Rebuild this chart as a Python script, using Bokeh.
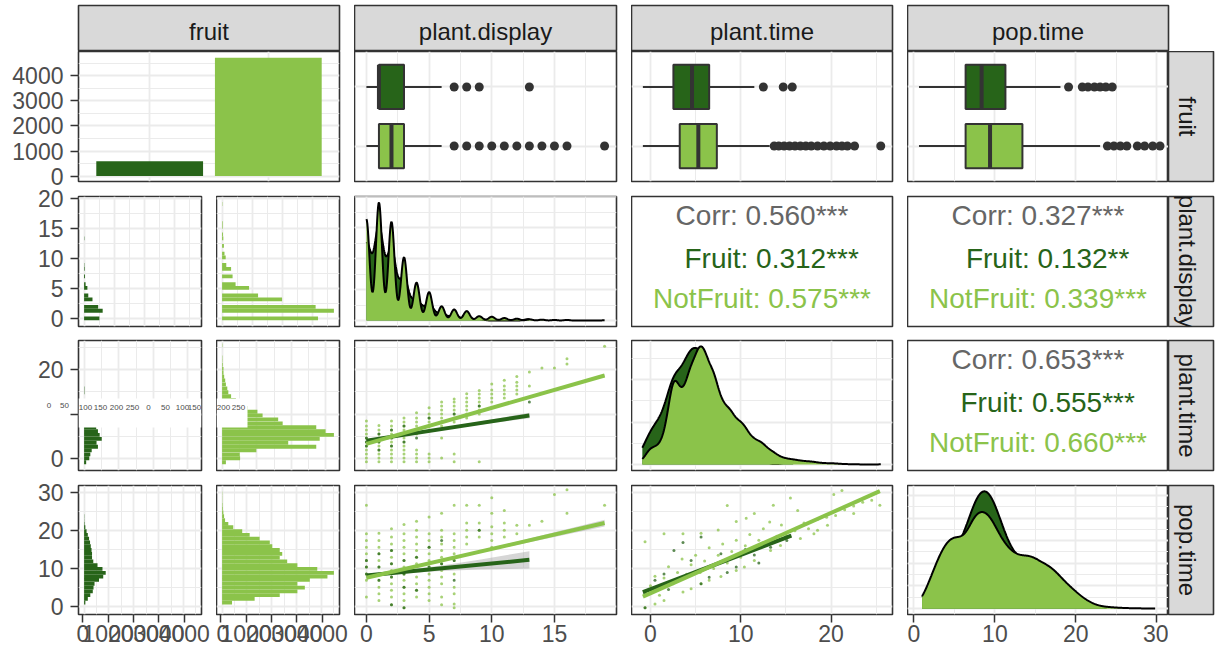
import numpy as np
from bokeh.plotting import figure
from bokeh.layouts import row, column
from bokeh.models import FixedTicker, BasicTicker, Label, Range1d, LinearAxis, AllLabels, BoxAnnotation
from bokeh.core.properties import value
from bokeh.embed import file_html
from bokeh.resources import INLINE

# ---------------- data ----------------
groups = ["Fruit", "NotFruit"]
group_counts = [590, 4720]
var_labels = ["fruit", "plant.display", "plant.time", "pop.time"]

# plant.display: integer values, histogram counts per value
pd_values = list(range(20))
pd_hist_fruit = [51, 62, 47, 28, 14, 11, 5, 3, 2, 1, 0, 0, 0, 1, 0, 0, 0, 0, 0, 0]
pd_hist_notfruit = [320, 373, 312, 200, 120, 90, 45, 35, 30, 14, 12, 8, 6, 4, 3, 2, 2, 0, 0, 1]

# plant.time histogram bins
pt_bins = [-0.9, 0.0, 0.9, 1.8, 2.6, 3.5, 4.4, 5.3, 6.1, 7.0, 7.9, 8.8, 9.7, 10.5, 11.4, 12.3,
           13.2, 14.0, 14.9, 15.8, 16.7, 17.6, 18.4, 19.3, 20.2, 21.1, 22.0, 22.8, 23.7, 24.6, 25.5]
pt_hist_fruit = [6, 15, 18, 22, 40, 36, 51, 45, 40, 35, 26, 18, 13, 9, 5, 2, 0, 0, 1, 1,
                 0, 0, 0, 0, 0, 0, 0, 0, 0, 0, 0]
pt_hist_notfruit = [11, 52, 51, 99, 272, 191, 282, 323, 299, 272, 175, 162, 117, 102, 73, 66,
                    40, 26, 18, 15, 11, 9, 6, 4, 4, 2, 1, 1, 0, 0, 1]

# pop.time histogram bins
pop_bins = [1.0, 2.0, 3.0, 4.0, 5.0, 6.0, 7.0, 7.9, 8.9, 9.9, 10.9, 11.9, 12.9, 13.9, 14.9,
            15.9, 16.9, 17.9, 18.9, 19.9, 20.9, 21.8, 22.8, 23.8, 24.8, 25.8, 26.8, 27.8, 28.8, 29.8]
pop_hist_fruit = [5, 15, 25, 35, 38, 42, 60, 77, 87, 74, 54, 37, 32, 32, 30, 27, 24, 20, 15, 10,
                  5, 2, 1, 1, 0, 0, 0, 0, 0, 0]
pop_hist_notfruit = [40, 131, 232, 303, 333, 303, 353, 424, 450, 383, 303, 262, 232, 242, 232,
                     202, 192, 151, 111, 81, 45, 25, 12, 8, 5, 3, 2, 1, 1, 1]

# boxplot summaries: [lower whisker, Q1, median, Q3, upper whisker]
pd_box_fruit = [0, 1, 1, 3, 6]
pd_box_notfruit = [0, 1, 2, 3, 6]
pd_out_fruit = [7, 8, 9, 13]
pd_out_notfruit = [7, 8, 9, 10, 11, 12, 13, 14, 15, 16, 19]
pt_box_fruit = [-0.84, 2.54, 4.6, 6.5, 11.5]
pt_box_notfruit = [-0.84, 3.24, 5.3, 7.35, 13.2]
pt_out_fruit = [12.5, 14.7, 15.7]
pt_out_notfruit = [13.7, 14.2, 14.8, 15.4, 16.0, 16.6, 17.2, 17.8, 18.5, 19.2, 19.9, 20.6,
                   21.2, 21.8, 22.6, 25.5]
pop_box_fruit = [0.62, 6.38, 8.36, 11.3, 18.1]
pop_box_notfruit = [0.62, 6.38, 9.4, 13.4, 23.0]
pop_out_fruit = [19.1, 20.8, 21.5, 22.3, 23.0, 23.7, 24.5]
pop_out_notfruit = [23.9, 24.7, 25.5, 26.3, 27.6, 28.5, 29.5, 30.4]

# correlation texts
cor_pd_pt = ["Corr: 0.560***", "Fruit: 0.312***", "NotFruit: 0.575***"]
cor_pd_pop = ["Corr: 0.327***", "Fruit: 0.132**", "NotFruit: 0.339***"]
cor_pt_pop = ["Corr: 0.653***", "Fruit: 0.555***", "NotFruit: 0.660***"]

# scatter: plant.display (x) vs plant.time (y)
pdpt_notfruit = {
    0: [-0.8, 0.1, 1.0, 1.9, 2.8, 3.7, 4.6, 5.5, 6.4, 7.3, 8.4],
    1: [-0.8, 0.1, 1.0, 1.9, 2.8, 3.7, 4.6, 5.5, 6.4, 7.4],
    2: [-0.8, 0.1, 1.0, 1.9, 2.8, 3.7, 4.6, 5.5, 6.4, 7.3, 8.4],
    3: [-0.8, 0.1, 1.0, 1.9, 2.8, 3.7, 4.6, 5.5, 6.4, 7.3, 8.2, 9.1],
    4: [-0.8, 0.1, 1.0, 1.9, 5.5, 6.4, 7.3, 8.2, 9.1, 10.3],
    5: [-0.8, 0.1, 1.0, 6.4, 7.3, 8.2, 9.1, 10.0, 11.4],
    6: [0.1, 4.6, 7.3, 8.2, 9.1, 10.0, 10.9, 11.8, 12.7],
    7: [-0.8, 1.0, 8.2, 9.1, 10.0, 10.9, 11.8, 12.7, 13.4],
    8: [9.1, 10.0, 10.9, 11.8, 12.7, 13.6, 14.6],
    9: [-0.8, 10.0, 10.9, 11.8, 12.7, 13.6, 14.5, 15.3],
    10: [12.7, 13.6, 14.5, 15.4, 16.8],
    11: [13.6, 14.5, 15.4, 16.3, 17.6],
    12: [14.5, 15.4, 16.3, 17.2, 18.5],
    13: [16.3, 19.5],
    14: [20.4],
    15: [20.4],
    16: [21.3, 22.5],
    19: [25.3],
}
pdpt_fruit = {0: [2.8, 3.7, 4.6], 1: [1.9, 3.7, 5.5], 2: [2.8, 4.6, 6.4], 3: [3.7, 5.5, 7.3],
              4: [4.6, 6.4], 5: [7.3, 9.1], 6: [8.2], 7: [10.0], 9: [11.8], 13: [12.7]}
pdpt_fit_fruit = ([0, 13], [4.0, 9.66])
pdpt_fit_notfruit = ([0, 19], [3.26, 18.7])
pdpt_se_fruit = ([0, 4, 8, 13], [0.35, 0.2, 0.3, 0.6])
pdpt_se_notfruit = ([0, 10, 19], [0.15, 0.1, 0.3])

# scatter: plant.display (x) vs pop.time (y)
pdpop_notfruit = {
    0: [2.5, 6.9, 8.6, 10.4, 12.1, 13.9, 15.6, 17.4, 19.2, 26.7],
    1: [1.6, 3.4, 5.1, 6.9, 8.6, 10.4, 12.1, 13.9, 15.6, 17.4, 19.3],
    2: [0.5, 2.5, 4.3, 6.0, 7.8, 9.5, 11.3, 13.0, 14.8, 16.5, 18.3, 20.5],
    3: [-0.3, 1.6, 3.4, 5.1, 6.9, 8.6, 10.4, 12.1, 13.9, 15.6, 17.4, 19.2, 21.6],
    4: [2.5, 4.3, 6.0, 7.8, 9.5, 11.3, 13.0, 14.8, 16.5, 18.3, 20.1, 22.5],
    5: [1.6, 3.4, 5.1, 6.9, 8.6, 10.4, 12.1, 13.9, 15.6, 17.4, 19.2, 23.6],
    6: [0.5, 2.5, 6.0, 7.8, 9.5, 11.3, 13.0, 14.8, 16.5, 18.3, 20.1, 24.6],
    7: [-0.3, 0.7, 3.4, 5.1, 8.6, 10.4, 12.1, 13.9, 15.6, 17.4, 19.2, 26.7],
    8: [16.5, 18.3, 20.1, 22.0, 26.7],
    9: [18.3, 20.1, 22.0, 26.7],
    10: [15.6, 17.4, 19.2, 21.0, 24.6, 28.7],
    11: [18.3, 20.1, 22.0, 25.3],
    12: [19.2, 21.4],
    13: [21.4],
    14: [22.5],
    15: [29.5],
    16: [24.6, 30.8],
    19: [26.7],
}
pdpop_fruit = {0: [8.6, 10.4, 12.1], 1: [6.9, 10.4, 13.9], 2: [0.5, 7.8, 11.3, 14.8],
               3: [-0.3, 5.1, 8.6, 12.1], 4: [4.3, 9.5, 13.0], 5: [10.4, 15.6], 6: [11.3, 17.4],
               7: [6.9, 12.1], 9: [20.1]}
pdpop_fit_fruit = ([0, 13], [8.2, 12.3])
pdpop_fit_notfruit = ([0, 19], [7.6, 22.0])
pdpop_se_fruit = ([0, 3, 6, 9, 13], [0.5, 0.4, 0.7, 1.3, 2.3])
pdpop_se_notfruit = ([0, 5, 10, 19], [0.4, 0.2, 0.3, 0.9])

# scatter: plant.time (x) vs pop.time (y)
ptpop_notfruit = [
    (-0.6, 17.1), (1.5, 19.2), (3.6, 19.2), (5.6, 19.3), (7.5, 20.2), (8.5, 26.6), (9.5, 22.4),
    (10.6, 23.3), (11.5, 24.5), (13.2, 22.3), (13.6, 26.7), (15.5, 28.6), (16.3, 25.3),
    (18.1, 19.2), (20.3, 29.5), (21.2, 30.6), (22.5, 24.5), (25.4, 26.7),
    (-0.6, -0.3), (0.5, 0.7), (1.5, 1.6), (3.6, 3.8), (4.5, 4.7), (5.6, 6.0), (6.5, 6.9),
    (7.8, 7.9), (9.5, 9.5), (10.4, 10.4), (11.5, 12.1), (13.3, 14.8), (14.4, 16.1),
    (16.6, 17.9), (18.5, 20.1), (19.6, 21.4),
    (0.0, 5.5), (0.5, 8.0), (1.0, 3.0), (1.5, 7.5), (2.0, 10.5), (2.5, 6.0), (3.0, 9.0),
    (3.5, 12.5), (4.0, 8.5), (4.5, 11.0), (5.0, 13.5), (5.5, 9.0), (6.0, 12.0), (6.5, 15.5),
    (7.0, 10.0), (7.5, 13.5), (8.0, 16.5), (8.5, 11.5), (9.0, 14.5), (9.5, 17.5), (10.0, 13.0),
    (10.5, 16.0), (11.0, 19.0), (11.5, 15.0), (12.0, 17.5), (12.5, 20.5), (13.0, 16.5),
    (14.0, 18.5), (14.5, 21.5), (15.0, 19.0), (16.0, 20.0), (17.0, 22.0), (17.5, 20.5),
    (18.5, 23.0), (19.5, 23.5), (20.5, 24.0), (21.5, 25.5), (22.5, 26.5), (23.5, 27.5),
    (24.5, 28.0),
]
ptpop_fruit = [
    (3.6, 16.9), (5.6, 18.3), (5.6, 6.0), (6.5, 7.7), (1.5, 8.6), (-0.6, 3.4), (-0.6, -0.3),
    (0.5, 6.9), (2.6, 14.8), (4.5, 12.1), (7.8, 13.9), (9.5, 10.4), (11.5, 13.6), (13.3, 15.6),
    (15.1, 17.4), (2.0, 4.5), (8.5, 9.0), (10.5, 15.0), (12.0, 11.5),
]
ptpop_fit_fruit = ([-0.84, 15.6], [3.8, 18.7])
ptpop_fit_notfruit = ([-0.84, 25.4], [2.6, 30.4])
ptpop_se_fruit = ([-0.84, 7, 15.6], [0.4, 0.2, 0.5])
ptpop_se_notfruit = ([-0.84, 10, 25.4], [0.2, 0.1, 0.3])

# misplaced count-axis labels seen over the plant.time histograms
inset_labels = ["0", "50", "100", "150", "200", "250", "0", "50", "100", "150", "200", "250"]

# ---------------- style / layout constants ----------------
DARK = "#276419"
LIGHT = "#8BC34A"
GCOL = [DARK, LIGHT]
INK = "#333333"
GRIDC = "#EBEBEB"
STRIPC = "#D9D9D9"
TICKC = "#4D4D4D"
FONT = "Liberation Sans"

LEFT = 78
GAP = 15
COLW = [261, 262, 261, 261]
SUBW = 123
ROWH = [130, 130, 130, 129]
ROWT = [0, 7, 8, 10]
ROWB = [8, 6, 5, 40]
STRIPW = 45

X_RANGE = {"plant.display": (-0.95, 19.95), "plant.time": (-2.1, 26.8), "pop.time": (-0.8, 31.45)}
X_MAJOR = {"plant.display": [0, 5, 10, 15], "plant.time": [0, 10, 20], "pop.time": [0, 10, 20, 30]}
X_MINOR = {"plant.display": [2.5, 7.5, 12.5, 17.5], "plant.time": [5, 15, 25], "pop.time": [5, 15, 25]}
Y_RANGE = {"plant.display": (-1.35, 20.25), "plant.time": (-2.75, 26.6), "pop.time": (-2.1, 31.9)}
Y_MAJOR = {"plant.display": [0, 5, 10, 15, 20], "plant.time": [0, 10, 20], "pop.time": [0, 10, 20, 30]}
Y_MINOR = {"plant.display": [2.5, 7.5, 12.5, 17.5], "plant.time": [5, 15, 25], "pop.time": [5, 15, 25]}


def base(xr, yr, fw, fh, left=0, right=0, top=0, bottom=0, xaxis=False, yaxis=False, bg="white", outline=True):
    p = figure(x_range=xr, y_range=yr, frame_width=fw, frame_height=fh,
               min_border_left=left, min_border_right=right,
               min_border_top=top, min_border_bottom=bottom,
               x_axis_location=("below" if xaxis else None),
               y_axis_location=("left" if yaxis else None),
               tools="", toolbar_location=None, output_backend="svg")
    p.background_fill_color = bg
    p.border_fill_color = "white"
    p.outline_line_color = INK if outline else None
    p.outline_line_width = 1.6
    for g in p.grid:
        g.grid_line_color = None
    return p


def set_grid(p, dim, major=None, minor=(), ticker=None):
    g = [gr for gr in p.grid if gr.dimension == dim][0]
    g.ticker = ticker if ticker is not None else FixedTicker(ticks=list(major), minor_ticks=list(minor))
    g.grid_line_color = GRIDC
    g.grid_line_width = 1.8
    g.minor_grid_line_color = GRIDC
    g.minor_grid_line_width = 1.0


def style_axis(ax, ticks, side):
    ax.ticker = FixedTicker(ticks=list(ticks))
    ax.axis_line_color = None
    ax.major_tick_line_color = INK
    ax.major_tick_line_width = 1.5
    ax.major_tick_in = 0
    ax.major_tick_out = 8
    ax.minor_tick_line_color = None
    ax.major_label_text_font = FONT
    ax.major_label_text_font_size = "23px"
    ax.major_label_text_color = TICKC
    ax.major_label_standoff = 7 if side == "left" else 2
    ax.major_label_policy = AllLabels()


def kde(vals, wts, n_obs):
    v = np.asarray(vals, float)
    w = np.asarray(wts, float)
    keep = w > 0
    v, w = v[keep], w[keep]
    pw = w / w.sum()
    mean = np.sum(pw * v)
    sd = np.sqrt(np.sum(pw * (v - mean) ** 2) * n_obs / (n_obs - 1))
    order = np.argsort(v)
    cp = np.cumsum(pw[order])
    vs = v[order]
    q1 = vs[np.searchsorted(cp, 0.25)]
    q3 = vs[np.searchsorted(cp, 0.75)]
    spread = min(sd, (q3 - q1) / 1.34) if q3 > q1 else sd
    bw = 0.9 * spread * n_obs ** -0.2
    xs = np.linspace(v.min(), v.max(), 512)
    d = (pw[None, :] * np.exp(-0.5 * ((xs[:, None] - v[None, :]) / bw) ** 2)).sum(1) / (bw * np.sqrt(2 * np.pi))
    return xs, d


pd_bw = (max(pd_values) - min(pd_values)) / 30.0
pd_bin_centers = [np.floor(v / pd_bw + 0.5) * pd_bw for v in pd_values]
HIST = {
    "plant.display": (pd_bin_centers, [pd_hist_fruit, pd_hist_notfruit], pd_bw),
    "plant.time": (pt_bins, [pt_hist_fruit, pt_hist_notfruit], (max(pt_bins) - min(pt_bins)) / 30.0),
    "pop.time": (pop_bins, [pop_hist_fruit, pop_hist_notfruit], (max(pop_bins) - min(pop_bins)) / 29.0),
}
RAW = {
    "plant.display": (pd_values, [pd_hist_fruit, pd_hist_notfruit]),
    "plant.time": (pt_bins, [pt_hist_fruit, pt_hist_notfruit]),
    "pop.time": (pop_bins, [pop_hist_fruit, pop_hist_notfruit]),
}
BOX = {
    "plant.display": ([pd_box_fruit, pd_box_notfruit], [pd_out_fruit, pd_out_notfruit]),
    "plant.time": ([pt_box_fruit, pt_box_notfruit], [pt_out_fruit, pt_out_notfruit]),
    "pop.time": ([pop_box_fruit, pop_box_notfruit], [pop_out_fruit, pop_out_notfruit]),
}

# ---------------- top strips ----------------
top_figs = []
for j, lab in enumerate(var_labels):
    p = base((0, 1), (0, 1), COLW[j], 46, left=(LEFT if j == 0 else 0),
             right=(GAP if j < 3 else STRIPW + 2), top=5, bottom=0, bg=STRIPC)
    p.text(x=[0.5], y=[0.44], text=[lab], text_align="center", text_baseline="middle",
           text_font=value(FONT), text_font_size="24px", text_color="#1A1A1A")
    top_figs.append(p)


def right_strip(lab, ri):
    p = base((0, 1), (0, 1), STRIPW, ROWH[ri], right=2, top=ROWT[ri], bottom=ROWB[ri], bg=STRIPC)
    p.text(x=[0.42], y=[0.5], text=[lab], angle=-np.pi / 2, text_align="center",
           text_baseline="middle", text_font=value(FONT), text_font_size="24px", text_color="#1A1A1A")
    return p


# ---------------- row 1 ----------------
row1 = []
p = base((0.4, 2.6), (-215, 4970), COLW[0], ROWH[0], left=LEFT, right=GAP,
         top=ROWT[0], bottom=ROWB[0], yaxis=True)
set_grid(p, 0, [1, 2])
set_grid(p, 1, [0, 1000, 2000, 3000, 4000], [500, 1500, 2500, 3500, 4500])
style_axis(p.yaxis[0], [0, 1000, 2000, 3000, 4000], "left")
p.vbar(x=[i + 1 for i in range(len(groups))], top=group_counts, bottom=0, width=0.9,
       fill_color=GCOL, line_color=None)
row1.append(p)

for j, var in enumerate(var_labels[1:], start=1):
    p = base(X_RANGE[var], (0.4, 2.6), COLW[j], ROWH[0], right=(GAP if j < 3 else 0),
             top=ROWT[0], bottom=ROWB[0])
    set_grid(p, 0, X_MAJOR[var], X_MINOR[var])
    set_grid(p, 1, [1, 2])
    stats, outs = BOX[var]
    for gi, g in enumerate(groups):
        ypos = len(groups) - gi
        lw, q1, med, q3, uw = stats[gi]
        p.segment(x0=[lw, q3], y0=[ypos, ypos], x1=[q1, uw], y1=[ypos, ypos], line_color=INK, line_width=2)
        p.hbar(y=[ypos], left=[q1], right=[q3], height=0.75, fill_color=GCOL[gi], line_color=INK, line_width=2)
        p.rect(x=[med], y=[ypos], width=4, width_units="screen", height=0.75, fill_color=INK, line_color=None)
        p.scatter(x=outs[gi], y=[ypos] * len(outs[gi]), size=9, fill_color=INK, line_color=None)
    row1.append(p)
row1.append(right_strip(var_labels[0], 0))


# ---------------- helpers for lower rows ----------------
# page positions of the stray labels (inset drawn over the plant.time histograms)
INSET_X = [51, 67, 85, 100, 116, 132, 148, 165, 182, 194, 223, 238]
INSET_BOX = (45, 247, 398, 427)   # left, right, top, bottom (page px)
INSET_TEXT_Y = 407
INSET_FS = 8


def inset(p, frame_left, frame_right, frame_bottom):
    l, r, t, b = INSET_BOX
    p.add_layout(BoxAnnotation(left=max(l, frame_left) - frame_left, right=min(r, frame_right) - frame_left,
                               top=frame_bottom - t, bottom=frame_bottom - b,
                               left_units="screen", right_units="screen",
                               top_units="screen", bottom_units="screen",
                               fill_color="white", fill_alpha=1.0, line_color=None))
    for X, txt in zip(INSET_X, inset_labels):
        w = 0.556 * INSET_FS * len(txt)
        if X - w / 2 >= frame_left and X + w / 2 <= frame_right:
            p.add_layout(Label(x=X - frame_left, y=frame_bottom - INSET_TEXT_Y, x_units="screen",
                               y_units="screen", text=txt, text_font=FONT,
                               text_font_size="%dpx" % INSET_FS,
                               text_color=TICKC, text_align="center", text_baseline="middle"))


def hist_pair(var, ri):
    centers, counts, bw = HIST[var]
    M = max(max(c) for c in counts)
    xr = (-0.05 * M, 1.05 * M)
    major = [v for v in range(0, int(1.05 * M) + 1, 100)]
    minor = [v for v in range(50, int(1.05 * M) + 1, 100)]
    yr = Y_RANGE[var]
    figs = []
    for gi, g in enumerate(groups):
        last = ri == 3
        p = base(xr, yr, SUBW, ROWH[ri], left=(LEFT if gi == 0 else 0), right=GAP,
                 top=ROWT[ri], bottom=ROWB[ri], yaxis=(gi == 0))
        set_grid(p, 0, major, minor)
        set_grid(p, 1, Y_MAJOR[var], Y_MINOR[var])
        if gi == 0:
            style_axis(p.yaxis[0], Y_MAJOR[var], "left")
        if last:
            p.extra_x_ranges = {"lab": Range1d(-170, 4682)}
            ax = LinearAxis(x_range_name="lab")
            style_axis(ax, [0, 1000, 2000, 3000, 4000], "below")
            p.add_layout(ax, "below")
        p.hbar(y=centers, left=0, right=counts[gi], height=bw, fill_color=GCOL[gi], line_color=None)
        figs.append(p)
    if var == "plant.time":
        fl_a = LEFT
        fl_b = LEFT + SUBW + GAP
        inset(figs[0], fl_a, fl_a + SUBW, 470)
        inset(figs[1], fl_b, fl_b + SUBW, 470)
        # the part of the stray axis that lies in the left margin, over the "10" tick label
        ax = figs[0].yaxis[0]
        ax.major_label_overrides = {10: ""}
        ax.axis_label = inset_labels[0] + "\u00a0" * 4 + inset_labels[1]
        ax.axis_label_orientation = "horizontal"
        ax.axis_label_text_font = FONT
        ax.axis_label_text_font_size = "%dpx" % INSET_FS
        ax.axis_label_text_font_style = "normal"
        ax.axis_label_text_color = TICKC
        ax.axis_label_standoff = -34
    return figs


def density_panel(var, j, ri):
    vals, counts = RAW[var]
    curves = [kde(vals, counts[gi], group_counts[gi]) for gi in range(len(groups))]
    M = max(c[1].max() for c in curves)
    p = base(X_RANGE[var], (-0.05 * M, 1.05 * M), COLW[j], ROWH[ri],
             right=(GAP if j < 3 else 0), top=ROWT[ri], bottom=ROWB[ri], xaxis=(ri == 3))
    set_grid(p, 0, X_MAJOR[var], X_MINOR[var])
    set_grid(p, 1, ticker=BasicTicker(desired_num_ticks=4, num_minor_ticks=2))
    if ri == 3:
        style_axis(p.xaxis[0], X_MAJOR[var], "below")
    for gi in range(len(groups)):
        xs, d = curves[gi]
        p.varea(x=xs, y1=np.zeros_like(d), y2=d, fill_color=GCOL[gi])
        p.line(xs, d, line_color="black", line_width=2)
    return p


def corr_panel(labels, j, ri):
    p = base((0, 1), (0, 1), COLW[j], ROWH[ri], right=(GAP if j < 3 else 0),
             top=ROWT[ri], bottom=ROWB[ri])
    p.text(x=[0.5, 0.537, 0.5], y=[0.854, 0.523, 0.219], text=labels,
           text_color=["#666666", DARK, LIGHT], text_align="center", text_baseline="middle",
           text_font=value(FONT), text_font_size="28px")
    return p


def flatten(d):
    xs, ys = [], []
    for k, v in d.items():
        xs += [k] * len(v)
        ys += v
    return xs, ys


def scatter_panel(xvar, yvar, j, ri, pts, fits, ses):
    p = base(X_RANGE[xvar], Y_RANGE[yvar], COLW[j], ROWH[ri], right=(GAP if j < 3 else 0),
             top=ROWT[ri], bottom=ROWB[ri], xaxis=(ri == 3))
    set_grid(p, 0, X_MAJOR[xvar], X_MINOR[xvar])
    set_grid(p, 1, Y_MAJOR[yvar], Y_MINOR[yvar])
    if ri == 3:
        style_axis(p.xaxis[0], X_MAJOR[xvar], "below")
    for gi in [1, 0]:
        px, py = pts[gi]
        p.scatter(x=px, y=py, size=3, fill_color=GCOL[gi], line_color=None, fill_alpha=0.75)
    for gi in range(len(groups)):
        fx, fy = fits[gi]
        sx, sh = ses[gi]
        center = np.interp(sx, fx, fy)
        p.varea(x=sx, y1=center - np.array(sh), y2=center + np.array(sh), fill_color="#999999", fill_alpha=0.4)
        p.line(fx, fy, line_color=GCOL[gi], line_width=4)
    return p


def unzip(pairs):
    return [a for a, b in pairs], [b for a, b in pairs]


# ---------------- rows 2-4 ----------------
row2 = hist_pair("plant.display", 1)
row2.append(density_panel("plant.display", 1, 1))
row2.append(corr_panel(cor_pd_pt, 2, 1))
row2.append(corr_panel(cor_pd_pop, 3, 1))
row2.append(right_strip(var_labels[1], 1))

row3 = hist_pair("plant.time", 2)
row3.append(scatter_panel("plant.display", "plant.time", 1, 2,
                          [flatten(pdpt_fruit), flatten(pdpt_notfruit)],
                          [pdpt_fit_fruit, pdpt_fit_notfruit], [pdpt_se_fruit, pdpt_se_notfruit]))
row3.append(density_panel("plant.time", 2, 2))
row3.append(corr_panel(cor_pt_pop, 3, 2))
row3.append(right_strip(var_labels[2], 2))

row4 = hist_pair("pop.time", 3)
row4.append(scatter_panel("plant.display", "pop.time", 1, 3,
                          [flatten(pdpop_fruit), flatten(pdpop_notfruit)],
                          [pdpop_fit_fruit, pdpop_fit_notfruit], [pdpop_se_fruit, pdpop_se_notfruit]))
row4.append(scatter_panel("plant.time", "pop.time", 2, 3,
                          [unzip(ptpop_fruit), unzip(ptpop_notfruit)],
                          [ptpop_fit_fruit, ptpop_fit_notfruit], [ptpop_se_fruit, ptpop_se_notfruit]))
row4.append(density_panel("pop.time", 3, 3))
row4.append(right_strip(var_labels[3], 3))

layout = column(row(*top_figs, spacing=0), row(*row1, spacing=0), row(*row2, spacing=0),
                row(*row3, spacing=0), row(*row4, spacing=0), spacing=0)

open("out.html", "w").write(file_html(layout, INLINE))
